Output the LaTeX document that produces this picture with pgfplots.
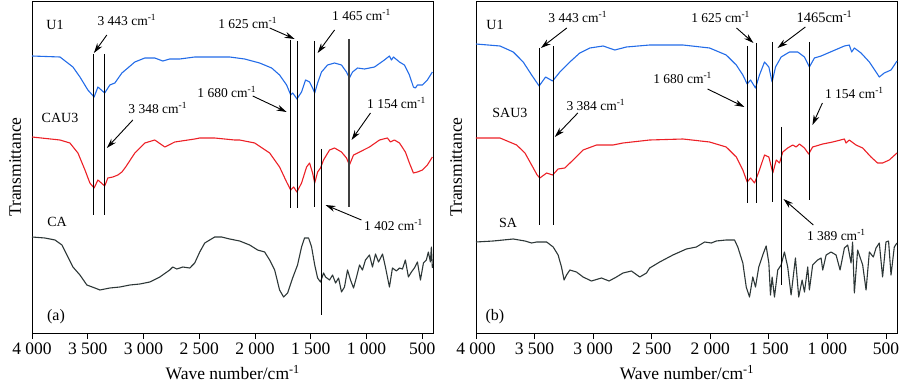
\documentclass[border=0pt]{standalone}
\usepackage{pgfplots}
\pgfplotsset{compat=1.18}
\usepackage{fontspec}
\setmainfont{Liberation Serif}
\usetikzlibrary{arrows.meta}
\definecolor{cblue}{RGB}{35,108,232}
\definecolor{cred}{RGB}{236,32,38}
\definecolor{cdark}{RGB}{45,55,55}
\pgfplotsset{
  ftir/.style={
    scale only axis, height=332pt,
    x dir=reverse, xmin=400, xmax=4000, ymin=0, ymax=332,
    ytick=\empty,
    xtick={500,1000,1500,2000,2500,3000,3500,4000},
    xticklabels={500,1 000,1 500,2 000,2 500,3 000,3 500,4 000},
    xtick pos=bottom, tick align=outside, major tick length=6pt,
    axis line style={line width=0.9pt, black},
    tick style={line width=0.9pt, black},
    ticklabel style={font=\fontsize{17.5}{20}\selectfont},
    label style={font=\fontsize{17.5}{20}\selectfont},
    xlabel={Wave number/cm\textsuperscript{-1}},
    xlabel style={at={(axis description cs:0.5,-0.12)}, anchor=center},
    ylabel={Transmittance},
    every axis plot/.append style={line width=1.1pt, line join=round},
  },
}
\tikzset{
  ann/.style={font=\fontsize{13.5}{16}\selectfont, inner sep=0pt},
  lab/.style={font=\fontsize{14}{16}\selectfont, inner sep=0pt},
  vl/.style={line width=1.1pt, black},
  arr/.style={-{Stealth[length=10pt,width=6pt]}, line width=0.9pt, black},
}
\begin{document}
\begin{tikzpicture}
\useasboundingbox (0,0) rectangle (900pt,386pt);
% ---------------- panel (a)
\begin{axis}[ftir, at={(32pt,53pt)}, anchor=south west, width=401.5pt,
  ylabel style={at={(axis description cs:-0.042,0.5)}, anchor=center}]
\addplot[cblue] coordinates {
(4000,277)(3749,276)(3633,266)(3570,256)(3499,243)(3443,236)(3409,246)(3348,240)(3302,248)(3257,250)(3194,260)(3141,265)(3078,271)(2988,275)(2899,275)(2827,272)(2765,274)(2675,274)(2541,276)(2406,276)(2227,276)(2093,274)(1959,270)(1851,265)(1780,258)(1717,248)(1680,238)(1663,240)(1636,236)(1625,234)(1583,241)(1547,253)(1511,251)(1484,245)(1465,240)(1439,250)(1404,261)(1350,268)(1287,270)(1225,268)(1180,261)(1154,255)(1126,261)(1081,265)(1019,264)(929,266)(840,273)(795,277)(777,273)(759,276)(705,271)(661,268)(616,258)(580,246)(562,245)(544,248)(499,248)(455,253)(410,261)};
\addplot[cred] coordinates {
(4000,196)(3749,193)(3660,190)(3588,180)(3525,163)(3481,150)(3443,145)(3409,153)(3348,147)(3320,155)(3275,156)(3230,158)(3194,161)(3160,166)(3078,180)(2988,190)(2899,193)(2809,186)(2720,191)(2541,194)(2496,195)(2362,195)(2183,193)(2138,193)(2003,190)(1869,180)(1780,166)(1717,151)(1680,143)(1654,146)(1625,141)(1583,150)(1538,166)(1511,170)(1484,160)(1465,150)(1439,161)(1413,165)(1386,173)(1332,183)(1287,185)(1225,181)(1180,175)(1154,168)(1117,178)(1063,181)(974,186)(884,193)(813,195)(786,191)(750,193)(705,190)(652,181)(616,170)(580,160)(544,161)(499,163)(455,168)(410,176)};
\addplot[cdark] coordinates {
(4000,96)(3884,95)(3794,93)(3731,88)(3678,76)(3633,66)(3570,58)(3508,48)(3436,45)(3391,43)(3302,45)(3212,46)(3123,48)(3033,49)(2944,51)(2854,56)(2765,63)(2738,66)(2702,64)(2648,66)(2585,65)(2541,70)(2496,81)(2451,90)(2362,96)(2299,96)(2227,94)(2138,92)(2048,88)(1977,83)(1914,81)(1869,73)(1824,63)(1780,43)(1744,36)(1708,40)(1663,55)(1619,68)(1583,86)(1556,95)(1520,95)(1493,86)(1465,68)(1439,55)(1413,51)(1386,60)(1368,56)(1332,53)(1305,58)(1278,50)(1251,55)(1225,41)(1198,46)(1171,63)(1144,53)(1117,45)(1090,56)(1063,68)(1037,63)(1010,73)(974,78)(947,66)(920,79)(893,71)(857,79)(831,66)(795,46)(768,65)(732,62)(705,65)(678,64)(652,73)(625,56)(598,61)(571,65)(544,71)(517,53)(490,70)(464,73)(446,81)(428,71)(419,86)(410,65)};
% marker lines
\draw[vl] (axis cs:3450,279) -- (axis cs:3450,118);
\draw[vl] (axis cs:3348,279) -- (axis cs:3348,118);
\draw[vl] (axis cs:1685,293) -- (axis cs:1685,125);
\draw[vl] (axis cs:1620,292) -- (axis cs:1620,125);
\draw[vl] (axis cs:1465,292) -- (axis cs:1465,126);
\draw[line width=1.5pt, black!75] (axis cs:1158,294) -- (axis cs:1158,126);
\draw[vl] (axis cs:1402,184) -- (axis cs:1402,18);
% arrows
\draw[arr] (axis cs:3329,298) -- (axis cs:3445,280);
\draw[arr] (axis cs:1869,305) -- (axis cs:1645,294);
\draw[arr] (axis cs:1287,303) -- (axis cs:1439,280);
\draw[arr] (axis cs:3096,213) -- (axis cs:3329,185);
\draw[arr] (axis cs:2021,237) -- (axis cs:1717,221);
\draw[arr] (axis cs:965,220) -- (axis cs:1135,193);
\draw[arr] (axis cs:1046,113) -- (axis cs:1368,128);
% labels
\node[ann] at (axis cs:3149,313) {3 443 cm\textsuperscript{-1}};
\node[ann] at (axis cs:2066,310) {1 625 cm\textsuperscript{-1}};
\node[ann] at (axis cs:1046,318) {1 465 cm\textsuperscript{-1}};
\node[ann] at (axis cs:2872,225) {3 348 cm\textsuperscript{-1}};
\node[ann] at (axis cs:2254,241) {1 680 cm\textsuperscript{-1}};
\node[ann] at (axis cs:732,230) {1 154 cm\textsuperscript{-1}};
\node[ann] at (axis cs:759,108) {1 402 cm\textsuperscript{-1}};
\node[lab] at (axis cs:3794,308) {U1};
\node[lab] at (axis cs:3749,215) {CAU3};
\node[lab] at (axis cs:3776,111) {CA};
\node[font=\fontsize{16}{18}\selectfont, inner sep=0pt] at (axis cs:3785,16) {(a)};
\end{axis}
% ---------------- panel (b)
\begin{axis}[ftir, at={(476pt,53pt)}, anchor=south west, width=421.7pt,
  ylabel style={at={(axis description cs:-0.047,0.5)}, anchor=center}]
\addplot[cblue] coordinates {
(4000,289)(3795,287)(3682,281)(3597,271)(3525,258)(3461,247)(3406,256)(3346,252)(3284,261)(3199,271)(3114,280)(3028,285)(2915,287)(2815,283)(2716,286)(2517,288)(2233,288)(2006,285)(1864,278)(1778,268)(1722,258)(1685,249)(1656,253)(1614,245)(1580,258)(1537,271)(1500,266)(1472,251)(1443,266)(1395,276)(1324,281)(1253,281)(1196,276)(1154,266)(1111,275)(1054,277)(955,282)(855,287)(813,288)(793,281)(770,285)(713,280)(642,271)(585,261)(557,256)(515,260)(457,263)(406,272)};
\addplot[cred] coordinates {
(4000,195)(3795,195)(3653,188)(3582,180)(3525,168)(3478,158)(3455,155)(3397,160)(3346,158)(3299,164)(3242,165)(3171,173)(3086,183)(2971,188)(2830,188)(2745,190)(2517,193)(2233,194)(2006,191)(1864,186)(1778,176)(1722,163)(1685,151)(1656,155)(1622,150)(1580,163)(1537,178)(1500,176)(1466,160)(1437,173)(1409,170)(1381,181)(1339,185)(1296,188)(1267,186)(1239,189)(1196,185)(1160,179)(1126,186)(1040,189)(955,191)(855,194)(841,190)(813,193)(756,188)(699,185)(628,176)(572,170)(529,170)(472,173)(406,180)};
\addplot[cdark] coordinates {
(4000,91)(3853,92)(3682,94)(3582,92)(3525,90)(3483,91)(3397,91)(3341,86)(3299,78)(3270,66)(3248,53)(3227,58)(3199,63)(3142,61)(3086,56)(3014,52)(2929,55)(2864,52)(2801,56)(2745,60)(2673,62)(2602,56)(2545,60)(2517,65)(2432,71)(2319,78)(2204,84)(2119,86)(2048,91)(1991,90)(1949,92)(1864,93)(1793,93)(1765,86)(1722,70)(1693,46)(1665,36)(1637,56)(1614,46)(1586,66)(1552,78)(1523,87)(1500,70)(1486,38)(1472,56)(1452,36)(1424,63)(1395,68)(1367,81)(1339,66)(1310,38)(1273,75)(1245,36)(1216,53)(1196,41)(1168,66)(1154,43)(1126,68)(1083,73)(1054,75)(1040,63)(1011,78)(969,81)(926,78)(892,63)(855,85)(827,88)(798,70)(785,91)(770,40)(742,83)(699,68)(670,43)(642,81)(608,76)(585,85)(557,90)(529,56)(500,91)(478,92)(457,58)(429,86)(406,90)};
% marker lines
\draw[vl] (axis cs:3461,285) -- (axis cs:3461,108);
\draw[vl] (axis cs:3341,287) -- (axis cs:3341,108);
\draw[vl] (axis cs:1685,287) -- (axis cs:1685,130);
\draw[vl] (axis cs:1608,290) -- (axis cs:1608,130);
\draw[vl] (axis cs:1472,291) -- (axis cs:1472,131);
\draw[vl] (axis cs:1154,291) -- (axis cs:1154,133);
\draw[vl] (axis cs:1390,206) -- (axis cs:1390,48);
% arrows
\draw[arr] (axis cs:3225,305) -- (axis cs:3446,285);
\draw[arr] (axis cs:1776,305) -- (axis cs:1631,290);
\draw[arr] (axis cs:1188,306) -- (axis cs:1426,285);
\draw[arr] (axis cs:2023,244) -- (axis cs:1708,226);
\draw[arr] (axis cs:3131,220) -- (axis cs:3327,196);
\draw[arr] (axis cs:1043,230) -- (axis cs:1128,208);
\draw[arr] (axis cs:1120,108) -- (axis cs:1375,134);
% labels
\node[ann] at (axis cs:3131,316) {3 443 cm\textsuperscript{-1}};
\node[ann] at (axis cs:1912,316) {1 625 cm\textsuperscript{-1}};
\node[ann, font=\fontsize{14.5}{16}\selectfont] at (axis cs:1026,316) {1465cm\textsuperscript{-1}};
\node[ann] at (axis cs:2236,255) {1 680 cm\textsuperscript{-1}};
\node[ann] at (axis cs:2977,228) {3 384 cm\textsuperscript{-1}};
\node[ann] at (axis cs:770,240) {1 154 cm\textsuperscript{-1}};
\node[ann] at (axis cs:924,98) {1 389 cm\textsuperscript{-1}};
\node[lab] at (axis cs:3838,308) {U1};
\node[lab] at (axis cs:3710,220) {SAU3};
\node[lab] at (axis cs:3727,110) {SA};
\node[font=\fontsize{16}{18}\selectfont, inner sep=0pt] at (axis cs:3838,16) {(b)};
\end{axis}
\end{tikzpicture}
\end{document}
